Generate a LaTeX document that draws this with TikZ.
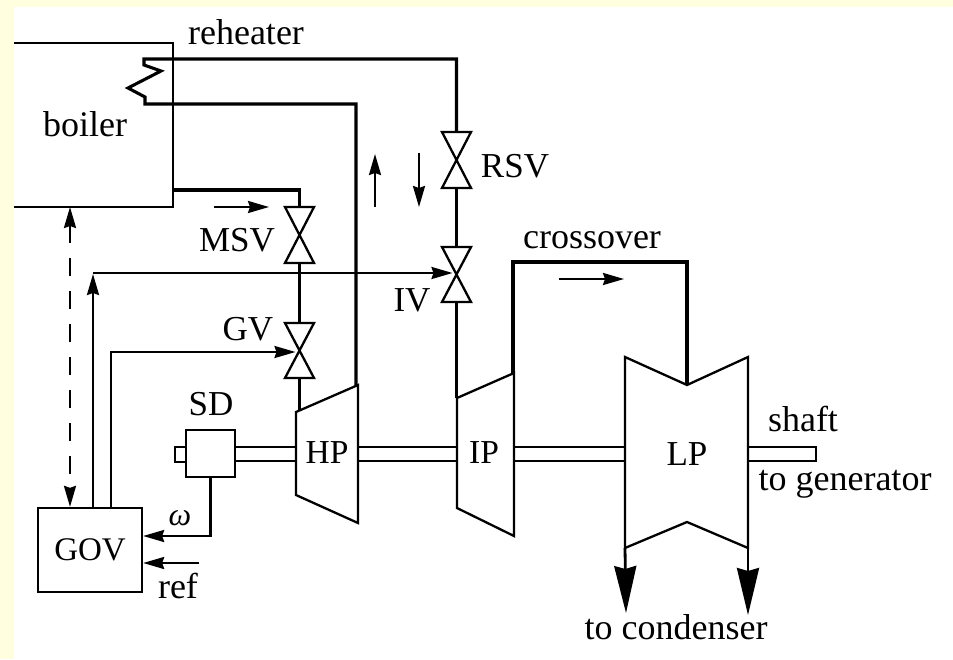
\documentclass[tikz,border=0pt]{standalone}
\usepackage{fontspec}
\setmainfont{Liberation Serif}
\usetikzlibrary{arrows.meta}
\definecolor{pagetint}{RGB}{255,255,224}
\tikzset{
  lbl/.style={inner sep=0pt,font=\fontsize{36}{40}\selectfont},
  caplbl/.style={inner sep=0pt,font=\fontsize{35}{40}\selectfont},
  wall/.style={line width=2.3pt,line join=miter},
  pipe/.style={line width=3.1pt,line join=miter},
  sig/.style={line width=2.3pt,line join=miter,-{Stealth[length=21pt,width=12pt,inset=2pt]}},
  flow/.style={line width=2.3pt,-{Stealth[length=21pt,width=12pt,inset=2pt]}},
  exhaust/.style={line width=2.8pt,-{Stealth[length=47pt,width=22pt,inset=3pt]}},
}
\begin{document}
\begin{tikzpicture}[x=1pt,y=1pt,yscale=-1,xscale=1]
\useasboundingbox (0,0) rectangle (953,659);
%Background band
\fill[pagetint] (0,0) rectangle (953,7);
\fill[pagetint] (0,0) rectangle (14,659);

%Boiler
\draw[wall] (14,43) -- (173,43) -- (173,207) -- (14,207);
\coordinate (boilerout) at (173,190);
\coordinate (boilerbase) at (70,207);

%Valves, top and bottom ends named
\foreach \vname/\vx/\vtop/\vbot in {msv/299.5/207/263, gv/299.5/323/378, rsv/456.5/132/188, iv/456.5/247/302}{
  \draw[wall] (\vx-14.5,\vtop) -- (\vx+14.5,\vtop) -- (\vx-14.5,\vbot) -- (\vx+14.5,\vbot) -- cycle;
  \coordinate (\vname top) at (\vx,\vtop);
  \coordinate (\vname bot) at (\vx,\vbot);
  \coordinate (\vname mid) at (\vx-4,{(\vtop+\vbot)/2});
}

%Turbines
\draw[wall] (296,412) -- (358,385) -- (358,523) -- (296,495) -- cycle;
\draw[wall] (457,398) -- (514,373) -- (514,536) -- (457,508) -- cycle;
\draw[wall] (625,357) -- (687,385) -- (748,357) -- (748,548) -- (687,522) -- (625,548) -- cycle;
\coordinate (hpin) at (299.5,411);
\coordinate (hpout) at (356,386);
\coordinate (ipin) at (456.5,398);
\coordinate (ipout) at (513,374);
\coordinate (lpin) at (687,385);
\coordinate (lpleft) at (625,548);
\coordinate (lpright) at (748,548);

%Steam pipes
\coordinate (rhtop) at (144,59);
\coordinate (rhbot) at (145,104);
\draw[pipe] (rsvtop) |- (rhtop) -- (144,65) -- (161,71) -- (128,88) -- (145,97) -- (rhbot) -| (hpout);
\draw[pipe] (boilerout) -| (msvtop);
\draw[pipe] (msvbot) -- (gvtop);
\draw[pipe] (gvbot) -- (hpin);
\draw[pipe] (rsvbot) -- (ivtop);
\draw[pipe] (ivbot) -- (ipin);
\draw[pipe] (ipout) |- (lpin |- 0,262) -- (lpin);

%Shaft
\foreach \sa/\sb in {235/296, 358/457, 514/625}{
  \draw[wall] (\sa,447) -- (\sb,447);
  \draw[wall] (\sa,461) -- (\sb,461);
}
\draw[wall] (748,447) -- (816,447) -- (816,461) -- (748,461);

%Speed device
\node[draw,line width=2.3pt,minimum width=49pt,minimum height=47pt,inner sep=0pt,fill=white] (sd) at (210.5,453.5) {};
\draw[wall] (sd.west |- 0,447) -- (175,447) -- (175,462) -- (sd.west |- 0,462);

%Governor
\node[draw,line width=2.3pt,minimum width=104pt,minimum height=84pt,inner sep=0pt,font=\fontsize{33}{36}\selectfont] (gov) at (90,550) {GOV};

%Signals
\draw[sig] (sd.south) |- (gov.east |- 0,536);
\coordinate (refin) at (199,563);
\draw[sig] (refin) -- (gov.east |- refin);
\draw[line width=2.3pt,dash pattern=on 18pt off 15pt,{Stealth[length=21pt,width=12pt,inset=2pt]}-{Stealth[length=21pt,width=12pt,inset=2pt]}] (boilerbase) -- (gov.north -| boilerbase);
\draw[sig] (gov.north -| 93,0) -- (93,274);
\draw[sig] (gov.north -| 111,0) |- (gvmid |- 0,352);
\draw[sig] (93,273) -- (ivmid |- 0,273);

%Flow directions
\draw[flow] (214,207) -- (269,207);
\draw[flow] (375,207) -- (375,154);
\draw[flow] (419,153) -- (419,207);
\draw[flow] (559,279) -- (624,279);

%Exhaust
\draw[exhaust] (lpleft) -- (626,613);
\draw[exhaust] (lpright) -- (748,615);

% Text Node
\node[lbl] at (246,32) {reheater};
\node[lbl] at (85,124) {boiler};
\node[caplbl] at (515,166) {RSV};
\node[caplbl] at (237,240) {MSV};
\node[lbl] at (592,240) {crossover};
\node[caplbl] at (412,300) {IV};
\node[caplbl] at (248,329) {GV};
\node[caplbl] at (211,404) {SD};
\node[inner sep=0pt,font=\fontsize{33.5}{36}\selectfont] at (327,453) {HP};
\node[inner sep=0pt,font=\fontsize{33.5}{36}\selectfont] at (484,453) {IP};
\node[caplbl] at (687,454) {LP};
\node[lbl] at (803,419) {shaft};
\node[lbl] at (845,484) {to generator};
\node[lbl] at (676,627) {to condenser};
\node[lbl] at (178,586) {ref};
\node[inner sep=0pt,font=\fontsize{32}{36}\selectfont\itshape] at (180,518) {ω};
\end{tikzpicture}
\end{document}
